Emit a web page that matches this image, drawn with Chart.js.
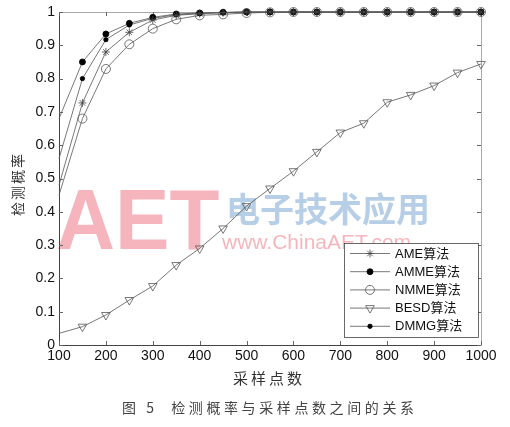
<!DOCTYPE html>
<html>
<head>
<meta charset="utf-8">
<script src="https://cdn.jsdelivr.net/npm/chart.js@4/dist/chart.umd.min.js"></script>
<style>
  html, body { margin: 0; padding: 0; background: #fff; }
  #wrap { width: 510px; height: 427px; }
</style>
</head>
<body>
<div id="wrap"><canvas id="myChart" width="510" height="427"></canvas></div>
<script>
// sampling points (x axis)
const samplePoints = [100, 150, 200, 250, 300, 350, 400, 450, 500, 550, 600, 650, 700, 750, 800, 850, 900, 950, 1000];
// detection probability for each algorithm
const ame  = [0.48, 0.727, 0.88, 0.939, 0.976, 0.99, 0.995, 0.998, 1, 1, 1, 1, 1, 1, 1, 1, 1, 1, 1];
const amme = [0.68, 0.85, 0.934, 0.966, 0.984, 0.994, 0.997, 0.999, 1, 1, 1, 1, 1, 1, 1, 1, 1, 1, 1];
const nmme = [0.45, 0.68, 0.829, 0.903, 0.95, 0.978, 0.99, 0.993, 0.997, 0.999, 1, 1, 1, 1, 1, 1, 1, 1, 1];
const besd = [0.035, 0.055, 0.09, 0.135, 0.177, 0.24, 0.29, 0.35, 0.417, 0.47, 0.522, 0.58, 0.638, 0.666, 0.729, 0.751, 0.779, 0.818, 0.844];
const dmmg = [0.56, 0.80, 0.917, 0.961, 0.981, 0.992, 0.996, 0.998, 1, 1, 1, 1, 1, 1, 1, 1, 1, 1, 1];

const xTicks = [100, 200, 300, 400, 500, 600, 700, 800, 900, 1000];
const yTicks = [0, 0.1, 0.2, 0.3, 0.4, 0.5, 0.6, 0.7, 0.8, 0.9, 1];
const yTickLabels = ['0', '0.1', '0.2', '0.3', '0.4', '0.5', '0.6', '0.7', '0.8', '0.9', '1'];

const xTitle = '采样点数';
const yTitle = '检测概率';
const caption = '图 5  检测概率与采样点数之间的关系';

const LINE = '#555';

function pts(arr) {
  return samplePoints.map((x, i) => ({ x: x, y: arr[i] }));
}
// no marker at the first sample (the curves just start there)
function rad(r) {
  return ctx => ctx.dataIndex === 0 ? 0 : r;
}

const series = [
  { label: 'AME算法',  data: ame,  style: 'star',     r: 4,   fill: 'rgba(0,0,0,0)', border: '#444', rot: 0 },
  { label: 'AMME算法', data: amme, style: 'circle',   r: 3,   fill: '#000',          border: '#000', rot: 0 },
  { label: 'NMME算法', data: nmme, style: 'circle',   r: 4.5, fill: 'rgba(0,0,0,0)', border: '#555', rot: 0 },
  { label: 'BESD算法', data: besd, style: 'triangle', r: 5,   fill: 'rgba(0,0,0,0)', border: '#555', rot: 180 },
  { label: 'DMMG算法', data: dmmg, style: 'circle',   r: 2.2, fill: '#000',          border: '#000', rot: 0 }
];

const datasets = series.map(s => ({
  label: s.label,
  data: pts(s.data),
  borderColor: LINE,
  borderWidth: 0.8,
  pointStyle: s.style,
  pointRadius: rad(s.r),
  pointBackgroundColor: s.fill,
  pointBorderColor: s.border,
  pointBorderWidth: 0.8,
  pointRotation: s.rot,
  tension: 0,
  clip: false
}));

function spaced(c, text, x, y, spacing) {
  c.save();
  c.letterSpacing = spacing + 'px';
  c.fillText(text, x, y);
  c.restore();
}

const watermark = {
  id: 'watermark',
  beforeDatasetsDraw(chart) {
    const c = chart.ctx;
    c.save();
    c.fillStyle = 'rgba(238,120,135,0.55)';
    c.font = 'bold 86px "Liberation Sans", Arial, sans-serif';
    c.textBaseline = 'alphabetic';
    c.textAlign = 'left';
    c.save();
    c.translate(56, 249);
    c.scale(0.95, 1);
    c.fillText('AET', 0, 0);
    c.restore();
    c.font = '21px "Liberation Sans", Arial, sans-serif';
    c.fillText('www.ChinaAET.com', 222, 249);
    c.fillStyle = 'rgba(110,160,205,0.5)';
    c.font = 'bold 34px "Noto Sans CJK SC", sans-serif';
    c.fillText('电子技术应用', 226, 222);
    c.restore();
  }
};

const axesBox = {
  id: 'axesBox',
  beforeDatasetsDraw(chart) {
    const c = chart.ctx;
    const a = chart.chartArea;
    const xs = chart.scales.x, ys = chart.scales.y;
    c.save();
    c.lineWidth = 1;
    // top & right edges lighter
    c.strokeStyle = '#aaa';
    c.beginPath();
    c.moveTo(a.left, a.top + 0.5); c.lineTo(a.right + 0.5, a.top + 0.5);
    c.lineTo(a.right + 0.5, a.bottom);
    c.stroke();
    c.strokeStyle = '#444';
    c.beginPath();
    c.moveTo(a.left + 0.5, a.top); c.lineTo(a.left + 0.5, a.bottom + 0.5);
    c.lineTo(a.right + 0.5, a.bottom + 0.5);
    c.stroke();
    // inward ticks
    c.strokeStyle = '#666';
    c.beginPath();
    xTicks.forEach(v => {
      const px = Math.round(xs.getPixelForValue(v)) + 0.5;
      c.moveTo(px, a.bottom); c.lineTo(px, a.bottom - 4);
      c.moveTo(px, a.top); c.lineTo(px, a.top + 4);
    });
    yTicks.forEach(v => {
      const py = Math.round(ys.getPixelForValue(v)) + 0.5;
      c.moveTo(a.left, py); c.lineTo(a.left + 4, py);
      c.moveTo(a.right, py); c.lineTo(a.right - 4, py);
    });
    c.stroke();
    c.restore();
  },
  afterDraw(chart) {
    const c = chart.ctx;
    const a = chart.chartArea;
    const xs = chart.scales.x, ys = chart.scales.y;
    c.save();
    c.fillStyle = '#111';
    c.font = '14px "Liberation Sans", Arial, sans-serif';
    c.textAlign = 'center';
    c.textBaseline = 'middle';
    xTicks.forEach(v => {
      c.fillText(String(v), xs.getPixelForValue(v), a.bottom + 11);
    });
    c.textAlign = 'right';
    yTicks.forEach((v, i) => {
      c.fillText(yTickLabels[i], a.left - 4, ys.getPixelForValue(v));
    });
    // axis titles
    c.fillStyle = '#333';
    c.textAlign = 'center';
    c.font = '15px "Noto Sans CJK SC", sans-serif';
    spaced(c, xTitle, 269, 378, 3);
    c.save();
    c.translate(18, 184);
    c.rotate(-Math.PI / 2);
    c.font = '14px "Noto Sans CJK SC", sans-serif';
    spaced(c, yTitle, 0, 0, 2);
    c.restore();
    // caption
    c.fillStyle = '#444';
    c.font = '14px "Noto Sans CJK SC", sans-serif';
    c.textAlign = 'left';
    spaced(c, caption, 122, 408, 3.6);
    c.restore();
  }
};

const legendBox = {
  id: 'legendBox',
  afterDatasetsDraw(chart) {
    const c = chart.ctx;
    const x0 = 344, y0 = 243, w = 134, h = 94;
    c.save();
    c.fillStyle = '#fff';
    c.fillRect(x0, y0, w, h);
    c.strokeStyle = '#444';
    c.lineWidth = 0.8;
    c.strokeRect(x0 + 0.5, y0 + 0.5, w, h);
    c.font = '13px "Liberation Sans", Arial, "Noto Sans CJK SC", sans-serif';
    c.textBaseline = 'middle';
    c.textAlign = 'left';
    series.forEach((s, i) => {
      const y = 253.5 + i * 18.2;
      c.strokeStyle = LINE;
      c.lineWidth = 0.8;
      c.beginPath();
      c.moveTo(350, y); c.lineTo(390, y);
      c.stroke();
      c.fillStyle = s.fill;
      c.strokeStyle = s.border;
      Chart.helpers.drawPoint(c, { pointStyle: s.style, radius: s.r, rotation: s.rot, borderWidth: 0.8 }, 370, y);
      c.fillStyle = '#111';
      c.fillText(s.label, 395, y + 0.5);
    });
    c.restore();
  }
};

new Chart(document.getElementById('myChart'), {
  type: 'line',
  data: { datasets: datasets },
  options: {
    responsive: false,
    animation: false,
    devicePixelRatio: 1,
    layout: { padding: { top: 12, right: 29, left: 0, bottom: 0 } },
    plugins: { legend: { display: false }, tooltip: { enabled: false } },
    scales: {
      x: {
        type: 'linear', min: 100, max: 1000,
        grid: { display: false }, border: { display: false },
        ticks: { display: false },
        afterFit(s) { s.height = 82; }
      },
      y: {
        type: 'linear', min: 0, max: 1,
        grid: { display: false }, border: { display: false },
        ticks: { display: false },
        afterFit(s) { s.width = 59; }
      }
    }
  },
  plugins: [watermark, axesBox, legendBox]
});
</script>
</body>
</html>
